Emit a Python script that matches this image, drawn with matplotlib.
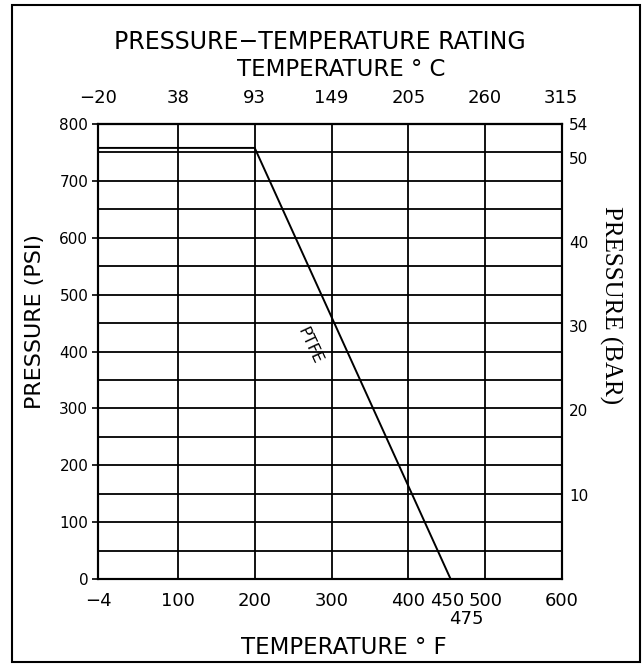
import matplotlib
matplotlib.use("Agg")
import matplotlib.pyplot as plt
from matplotlib.patches import Rectangle

# PTFE rating curve
temp_f = [-4, 200, 455]
pressure_psi = [758, 758, 0]

f_ticks = [-4, 100, 200, 300, 400, 450, 500, 600]
f_labels = ["\u22124", "100", "200", "300", "400", "450", "500", "600"]
f_extra = [475]
c_ticks = [-20, 38, 93, 149, 205, 260, 315]
c_labels = ["\u221220", "38", "93", "149", "205", "260", "315"]
psi_ticks = [0, 100, 200, 300, 400, 500, 600, 700, 800]
bar_ticks = [10, 20, 30, 40, 50, 54]
v_grid = [100, 200, 300, 400, 500]
h_grid = list(range(50, 800, 50))


def f_to_c(f):
    return (f - 32) * 5.0 / 9.0


def c_to_f(c):
    return c * 9.0 / 5.0 + 32


plt.rcParams['font.family'] = ['DejaVu Sans']

fig = plt.figure(figsize=(6.43, 6.65), dpi=100)
ax = fig.add_axes([0.1524, 0.1293, 0.874 - 0.1524, 0.8135 - 0.1293])

for x in v_grid:
    ax.axvline(x, color='black', lw=1.3, zorder=1)
for y in h_grid:
    ax.axhline(y, color='black', lw=1.3, zorder=1)

ax.plot(temp_f, pressure_psi, color='black', lw=1.4, zorder=2)
ax.text(272, 410, "PTFE", rotation=-65, ha='center', va='center',
        fontsize=11.5, rotation_mode='anchor')

ax.set_xlim(-4, 600)
ax.set_ylim(0, 800)
for s in ax.spines.values():
    s.set_linewidth(1.5)

ax.set_xticks(f_ticks, f_labels)
ax.set_xticks(f_extra, [str(v) for v in f_extra], minor=True)
ax.tick_params(axis='x', which='major', length=0, pad=9, labelsize=13)
ax.tick_params(axis='x', which='minor', length=0, pad=22, labelsize=13)
ax.set_yticks(psi_ticks)
ax.tick_params(axis='y', length=4, width=1.2, pad=3, labelsize=11)

ax2 = ax.twinx()
ax2.set_ylim(0, 54)
ax2.set_yticks(bar_ticks)
ax2.tick_params(axis='y', length=0, pad=5, labelsize=11)
ax2.set_yticks([10], minor=True)
ax2.tick_params(axis='y', which='minor', length=5, width=1.2)
for s in ax2.spines.values():
    s.set_linewidth(1.5)

top = ax.secondary_xaxis('top', functions=(f_to_c, c_to_f))
top.set_xticks(c_ticks, c_labels)
top.tick_params(length=0, pad=12, labelsize=13)
top.spines['top'].set_linewidth(1.5)

fig.text(0.498, 0.937, "PRESSURE\u2212TEMPERATURE RATING", ha='center',
         va='center', fontsize=17)
fig.text(0.530, 0.895, "TEMPERATURE \u00b0 C", ha='center', va='center',
         fontsize=16.5)
fig.text(0.535, 0.026, "TEMPERATURE \u00b0 F", ha='center', va='center',
         fontsize=16.5)
fig.text(0.054, 0.516, "PRESSURE (PSI)", ha='center', va='center',
         rotation=90, fontsize=16)
fig.text(0.949, 0.541, "PRESSURE (BAR)", ha='center', va='center',
         rotation=-90, fontsize=18, family='Liberation Serif')

fig.patches.append(Rectangle((0.0187, 0.0045), 0.9953 - 0.0187, 0.9925 - 0.0045,
                             transform=fig.transFigure, fill=False,
                             edgecolor='black', lw=1.5))

fig.savefig("out.png", dpi=100)
